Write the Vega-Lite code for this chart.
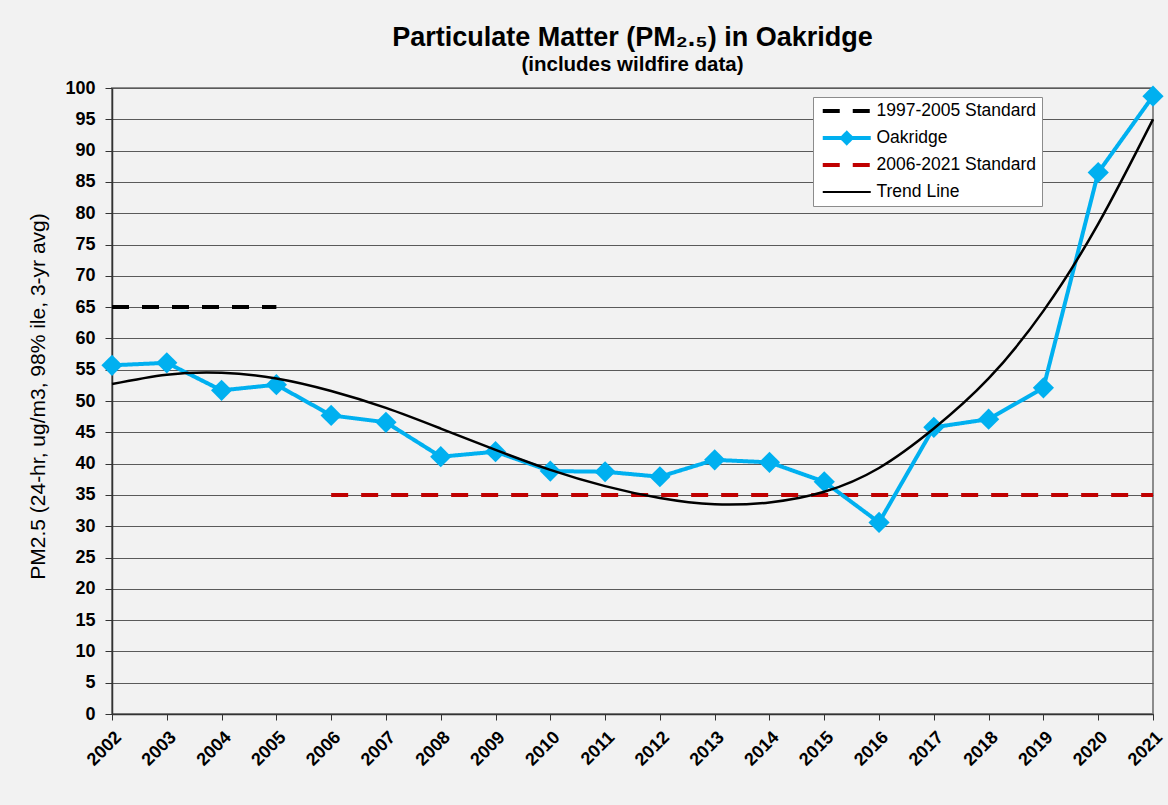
{
  "$schema": "https://vega.github.io/schema/vega-lite/v6.json",
  "autosize": "none",
  "width": 1041,
  "height": 626,
  "padding": {"left": 112, "top": 88, "right": 15, "bottom": 91},
  "background": "#f2f2f2",
  "config": {
    "font": "Liberation Sans",
    "view": {"fill": "#f2f2f2", "stroke": "#8c8c8c", "strokeWidth": 2},
    "axis": {"domainColor": "#333333", "tickColor": "#333333", "labelColor": "black", "titleColor": "black", "labelFont": "Liberation Sans", "titleFont": "Liberation Sans"}
  },
  "title": {
    "text": "Particulate Matter (PM₂.₅) in Oakridge",
    "subtitle": "(includes wildfire data)",
    "fontSize": 27,
    "fontWeight": "bold",
    "subtitleFontSize": 20.5,
    "subtitleFontWeight": "bold",
    "subtitleColor": "black",
    "color": "black",
    "subtitlePadding": 3,
    "anchor": "middle",
    "frame": "group",
    "offset": 3
  },
  "datasets": {
    "main": [
      {"year": 2002, "value": 65, "series": "1997-2005 Standard"},
      {"year": 2005, "value": 65, "series": "1997-2005 Standard"},
      {"year": 2006, "value": 35, "series": "2006-2021 Standard"},
      {"year": 2021, "value": 35, "series": "2006-2021 Standard"},
      {"year": 2002, "value": 55.7, "series": "Oakridge"},
      {"year": 2003, "value": 56.1, "series": "Oakridge"},
      {"year": 2004, "value": 51.7, "series": "Oakridge"},
      {"year": 2005, "value": 52.6, "series": "Oakridge"},
      {"year": 2006, "value": 47.7, "series": "Oakridge"},
      {"year": 2007, "value": 46.6, "series": "Oakridge"},
      {"year": 2008, "value": 41.1, "series": "Oakridge"},
      {"year": 2009, "value": 41.9, "series": "Oakridge"},
      {"year": 2010, "value": 38.8, "series": "Oakridge"},
      {"year": 2011, "value": 38.7, "series": "Oakridge"},
      {"year": 2012, "value": 37.9, "series": "Oakridge"},
      {"year": 2013, "value": 40.6, "series": "Oakridge"},
      {"year": 2014, "value": 40.2, "series": "Oakridge"},
      {"year": 2015, "value": 37.1, "series": "Oakridge"},
      {"year": 2016, "value": 30.6, "series": "Oakridge"},
      {"year": 2017, "value": 45.8, "series": "Oakridge"},
      {"year": 2018, "value": 47.1, "series": "Oakridge"},
      {"year": 2019, "value": 52.1, "series": "Oakridge"},
      {"year": 2020, "value": 86.5, "series": "Oakridge"},
      {"year": 2021, "value": 98.7, "series": "Oakridge"}
    ],
    "trend": [
      {"year": 2002, "value": 52.7, "series": "Trend Line"},
      {"year": 2003, "value": 54.2, "series": "Trend Line"},
      {"year": 2004, "value": 54.5, "series": "Trend Line"},
      {"year": 2005, "value": 53.6, "series": "Trend Line"},
      {"year": 2006, "value": 51.6, "series": "Trend Line"},
      {"year": 2007, "value": 48.9, "series": "Trend Line"},
      {"year": 2008, "value": 45.6, "series": "Trend Line"},
      {"year": 2009, "value": 42.2, "series": "Trend Line"},
      {"year": 2010, "value": 39.0, "series": "Trend Line"},
      {"year": 2011, "value": 36.4, "series": "Trend Line"},
      {"year": 2012, "value": 34.5, "series": "Trend Line"},
      {"year": 2013, "value": 33.5, "series": "Trend Line"},
      {"year": 2014, "value": 33.8, "series": "Trend Line"},
      {"year": 2015, "value": 35.5, "series": "Trend Line"},
      {"year": 2016, "value": 39.3, "series": "Trend Line"},
      {"year": 2017, "value": 45.6, "series": "Trend Line"},
      {"year": 2018, "value": 53.6, "series": "Trend Line"},
      {"year": 2019, "value": 64.4, "series": "Trend Line"},
      {"year": 2020, "value": 78.3, "series": "Trend Line"},
      {"year": 2021, "value": 95.0, "series": "Trend Line"}
    ]
  },
  "encoding": {
    "x": {
      "field": "year", "type": "quantitative",
      "scale": {"domain": [2002, 2021], "nice": false, "zero": false},
      "axis": {
        "title": null, "grid": false, "format": "d",
        "values": [2002,2003,2004,2005,2006,2007,2008,2009,2010,2011,2012,2013,2014,2015,2016,2017,2018,2019,2020,2021],
        "labelAngle": -45, "labelFontWeight": "bold", "labelFontSize": 18,
        "tickSize": 6, "labelPadding": 8, "domainWidth": 1.5, "labelFlush": false, "labelOverlap": false
      }
    },
    "y": {
      "field": "value", "type": "quantitative",
      "scale": {"domain": [0, 100], "nice": false},
      "axis": {
        "title": "PM2.5  (24-hr, ug/m3, 98% ile, 3-yr avg)",
        "titleFontSize": 21, "titleFontWeight": "normal",
        "titleAngle": -90, "titleX": -74, "titleY": 308, "titleAlign": "center", "titleBaseline": "middle",
        "values": [0,5,10,15,20,25,30,35,40,45,50,55,60,65,70,75,80,85,90,95,100],
        "labelFontSize": 18, "labelFontWeight": "bold", "labelPadding": 10, "tickSize": 7,
        "grid": true, "gridColor": "#5a5a5a", "gridWidth": 1, "domainWidth": 1.5, "labelFlush": false, "labelOverlap": false
      }
    }
  },
  "layer": [
    {
      "data": {"name": "main"},
      "mark": {"type": "line", "strokeWidth": 4},
      "encoding": {
        "color": {
          "field": "series", "type": "nominal",
          "scale": {
            "domain": ["1997-2005 Standard", "Oakridge", "2006-2021 Standard", "Trend Line"],
            "range": ["#000000", "#00b0f0", "#c00000", "#000000"]
          },
          "legend": {
            "title": null, "orient": "none", "legendX": 701, "legendY": 9,
            "fillColor": "white", "strokeColor": "#8c8c8c", "padding": 5,
            "labelFontSize": 17.5, "labelColor": "black", "labelFont": "Liberation Sans",
            "symbolType": "stroke", "symbolSize": 2304, "symbolStrokeWidth": 4,
            "symbolOffset": 20, "clipHeight": 18,
            "rowPadding": 9, "labelOffset": 21,
            "encode": {
              "symbols": {
                "update": {
                  "shape": {"signal": "datum.value === 'Oakridge' ? 'M-1,0H1M0,-0.2L0.2,0L0,0.2L-0.2,0Z' : 'stroke'"},
                  "fill": {"signal": "datum.value === 'Oakridge' ? '#00b0f0' : 'transparent'"},
                  "size": {"value": 2304},
                  "strokeWidth": {"signal": "datum.value === 'Trend Line' ? 2 : 4"},
                  "strokeDash": {"signal": "(datum.value === '1997-2005 Standard' || datum.value === '2006-2021 Standard') ? [17,13] : [1,0]"},
                  "opacity": {"value": 1}
                }
              }
            }
          }
        },
        "strokeDash": {
          "field": "series", "type": "nominal",
          "scale": {
            "domain": ["1997-2005 Standard", "Oakridge", "2006-2021 Standard", "Trend Line"],
            "range": [[17, 13], [1, 0], [17, 13], [1, 0]]
          },
          "legend": null
        }
      }
    },
    {
      "data": {"name": "main"},
      "transform": [{"filter": "datum.series === 'Oakridge'"}],
      "mark": {"type": "point", "shape": "diamond", "filled": true, "size": 450, "opacity": 1, "color": "#00b0f0"},
      "encoding": {}
    },
    {
      "data": {"name": "trend"},
      "mark": {"type": "line", "strokeWidth": 2.5, "interpolate": "natural"},
      "encoding": {
        "color": {"field": "series", "type": "nominal"}
      }
    }
  ]
}
